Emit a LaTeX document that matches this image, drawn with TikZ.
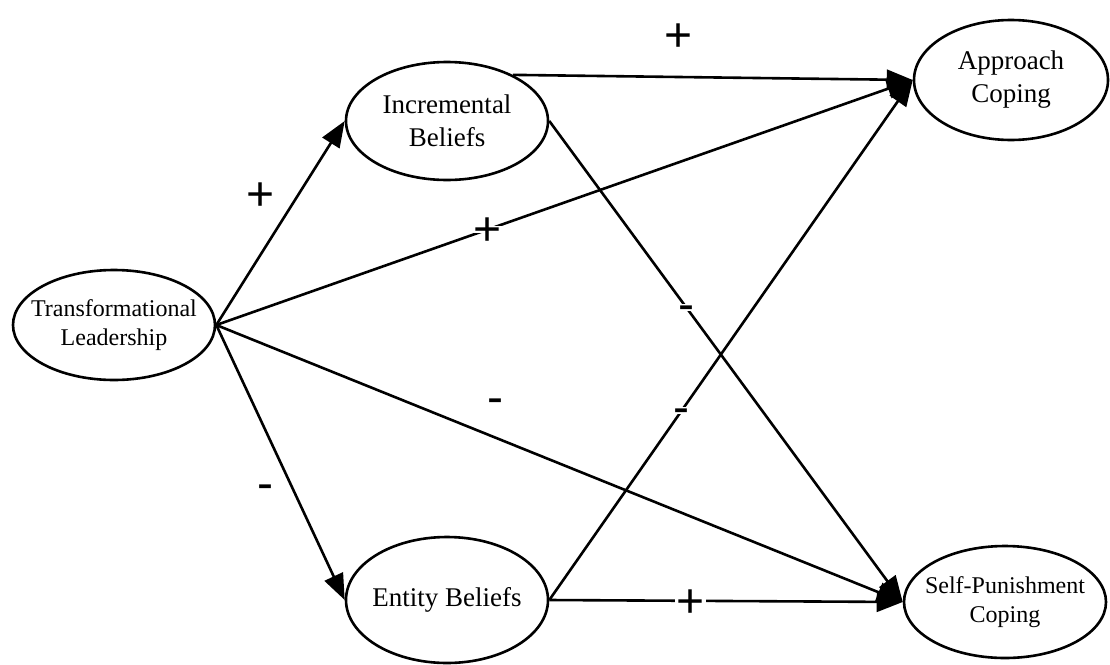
\documentclass[tikz,border=0pt]{standalone}
\usepackage{fontspec}
\setmainfont{Liberation Serif}
\newfontfamily\lblfamily{Liberation Sans}
\usetikzlibrary{shapes.geometric,arrows.meta}
\begin{document}
\begin{tikzpicture}[x=1pt,y=-1pt,
  latent/.style={ellipse,draw,line width=2.6pt,inner xsep=-100pt,inner ysep=-60pt,align=center,fill=white},
  big/.style={font=\fontsize{27}{33}\selectfont},
  small/.style={font=\fontsize{24}{29}\selectfont},
  path/.style={line width=2.6pt,-{Triangle[length=26pt,width=20pt]}},
  sign/.style={font=\lblfamily\fontsize{48}{48}\selectfont,inner sep=1.5pt,text height=0.2em,text depth=0.2em},
  onpath/.style={sign,fill=white}
]
\useasboundingbox (0,0) rectangle (1110,664);
\node[latent,small,minimum width=202,minimum height=110] (TL) at (114,325) {Transformational\\Leadership};
\node[latent,big,minimum width=202,minimum height=118] (Incr) at (447,121) {Incremental\\Beliefs};
\node[latent,big,minimum width=194,minimum height=120] (Appr) at (1011,80) {Approach\\Coping};
\node[latent,big,minimum width=202,minimum height=126] (Ent) at (447,600) {Entity Beliefs};
\node[latent,small,minimum width=202,minimum height=112] (Self) at (1005,602) {Self-Punishment\\Coping};

\draw[path] (TL.east) -- (Incr.west);
\draw[path] (TL.east) -- (Ent.west);
\draw[path] (TL.east) -- node[onpath,pos=0.39]{\raisebox{-0.34em}{+}} (Appr.west);
\draw[path] (TL.east) -- (Self.west);
\draw[path] (Incr.35) -- (Appr.west);
\draw[path] (Incr.east) -- node[onpath,pos=0.387]{\raisebox{-0.27em}{-}} (Self.west);
\draw[path] (Ent.east) -- node[onpath,pos=0.365]{\raisebox{-0.27em}{-}} (Appr.west);
\draw[path] (Ent.east) -- node[onpath,pos=0.40]{\raisebox{-0.34em}{+}} (Self.west);

\node[sign] (s1) at (679,35) {\raisebox{-0.34em}{+}};
\node[sign] (s2) at (261,194) {\raisebox{-0.34em}{+}};
\node[sign] (s3) at (265,487) {\raisebox{-0.27em}{-}};
\node[sign] (s4) at (495,401) {\raisebox{-0.27em}{-}};
\end{tikzpicture}
\end{document}
